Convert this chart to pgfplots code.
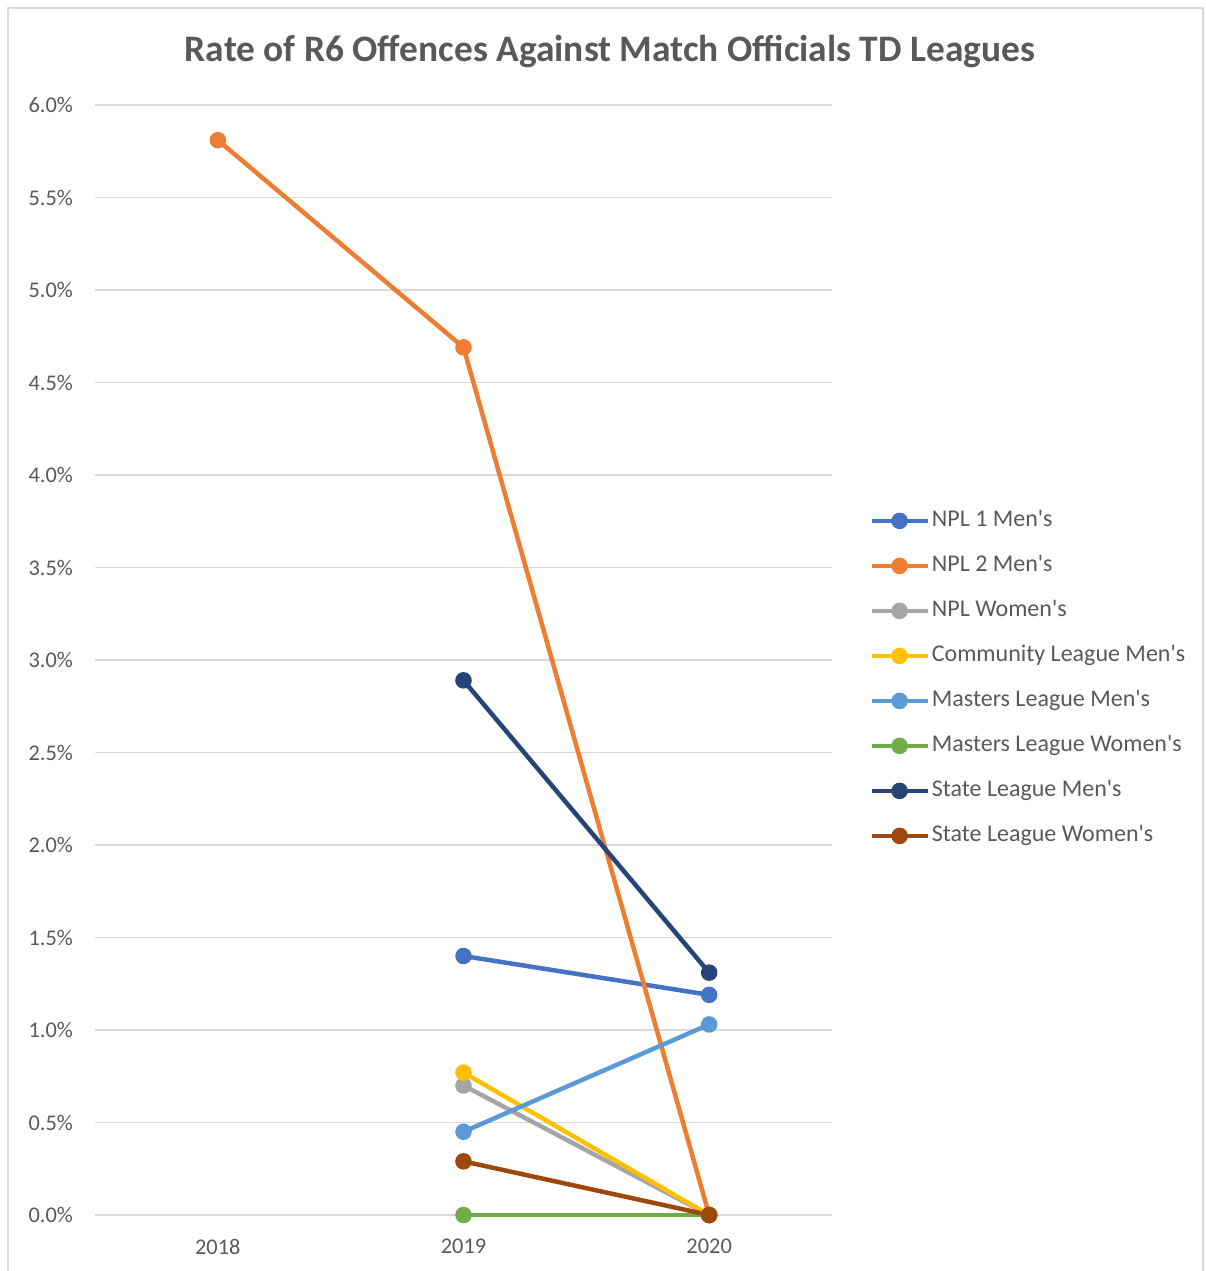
\documentclass[border=0pt]{standalone}
\usepackage{pgfplots}
\pgfplotsset{compat=1.18}
\usepackage{fontspec}
\setmainfont{Carlito}
\definecolor{NplOne}{HTML}{4472C4}
\definecolor{NplTwo}{HTML}{ED7D31}
\definecolor{NplWomen}{HTML}{A5A5A5}
\definecolor{Community}{HTML}{FFC000}
\definecolor{MastersMen}{HTML}{5B9BD5}
\definecolor{MastersWomen}{HTML}{70AD47}
\definecolor{StateMen}{HTML}{264478}
\definecolor{StateWomen}{HTML}{9E480E}
\definecolor{GridGray}{HTML}{D9D9D9}
\definecolor{TextGray}{HTML}{595959}
\newcommand{\q}{\textquotesingle}

\begin{document}
\begin{tikzpicture}
  \useasboundingbox (0,0) rectangle (603pt,635.5pt);
  % chart frame (bottom edge is cropped in the reference)
  \draw[GridGray, line width=0.75pt] (4pt,-2pt) -- (4pt,631.5pt) -- (601.5pt,631.5pt) -- (601.5pt,-2pt);
  \node[font=\bfseries\fontsize{18.7}{21}\selectfont, text=TextGray] at (305pt,609.5pt)
    {Rate of R6 Offences Against Match Officials TD Leagues};
  \begin{axis}[
    at={(47.5pt,28pt)}, anchor=south west,
    scale only axis, width=368.5pt, height=555pt,
    xmin=-0.5, xmax=2.5, ymin=0, ymax=6,
    xtick={0,1,2}, xticklabels={2018,2019,2020},
    ytick={0,0.5,...,6},
    yticklabel={\pgfmathprintnumber[fixed,fixed zerofill,precision=1]{\tick}\%},
    /pgf/number format/assume math mode=true,
    ticklabel style={font=\fontsize{11.2}{13}\selectfont, text=TextGray},
    xticklabel style={yshift=-8.5pt},
    yticklabel style={xshift=-7.5pt},
    major tick length=0pt,
    axis line style={draw=none},
    ymajorgrids, grid style={GridGray, line width=0.75pt},
    every axis plot/.append style={line width=2.25pt, mark=*, mark size=3pt},
    clip=false,
    legend cell align=left,
    legend style={at={(1.042,0.641)}, anchor=north west, draw=none, fill=none,
      font=\fontsize{12}{14}\selectfont, text=TextGray, row sep=9.5pt,
      nodes={text height=8.5pt, text depth=2.5pt, inner sep=1pt}},
    legend image code/.code={
      \draw[mark repeat=2, mark phase=2] plot coordinates {(0pt,0pt) (14pt,0pt) (28pt,0pt)};
    },
  ]
    \addplot[NplOne] coordinates {(1,1.40) (2,1.19)};
    \addlegendentry{NPL 1 Men\q s}
    \addplot[NplTwo] coordinates {(0,5.81) (1,4.69) (2,0)};
    \addlegendentry{NPL 2 Men\q s}
    \addplot[NplWomen] coordinates {(1,0.70) (2,0)};
    \addlegendentry{NPL Women\q s}
    \addplot[Community] coordinates {(1,0.77) (2,0)};
    \addlegendentry{Community League Men\q s}
    \addplot[MastersMen] coordinates {(1,0.45) (2,1.03)};
    \addlegendentry{Masters League Men\q s}
    \addplot[MastersWomen] coordinates {(1,0) (2,0)};
    \addlegendentry{Masters League Women\q s}
    \addplot[StateMen] coordinates {(1,2.89) (2,1.31)};
    \addlegendentry{State League Men\q s}
    \addplot[StateWomen] coordinates {(1,0.29) (2,0)};
    \addlegendentry{State League Women\q s}
  \end{axis}
\end{tikzpicture}
\end{document}
